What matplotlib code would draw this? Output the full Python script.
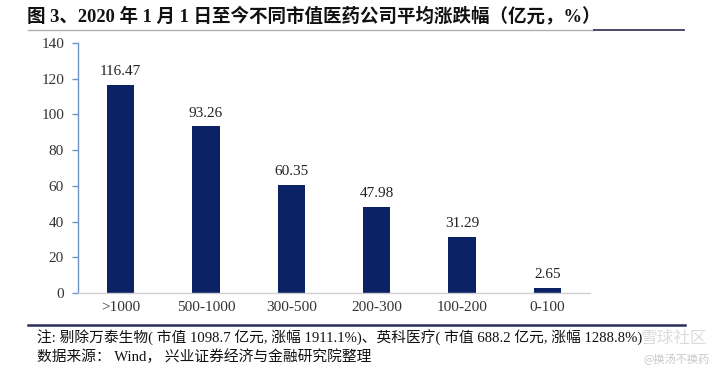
import matplotlib
matplotlib.use("Agg")
import matplotlib.pyplot as plt
from matplotlib.lines import Line2D

categories = [">1000", "500-1000", "300-500", "200-300", "100-200", "0-100"]
values = [116.47, 93.26, 60.35, 47.98, 31.29, 2.65]
y_ticks = [0, 20, 40, 60, 80, 100, 120, 140]

title = "图 3、2020 年 1 月 1 日至今不同市值医药公司平均涨跌幅（亿元，%）"
note = "注: 剔除万泰生物( 市值 1098.7 亿元, 涨幅 1911.1%)、英科医疗( 市值 688.2 亿元, 涨幅 1288.8%)"
source = "数据来源： Wind， 兴业证券经济与金融研究院整理"

serif = ["Liberation Serif", "Noto Sans CJK SC"]

W, H = 715, 379
fig = plt.figure(figsize=(W / 100, H / 100), dpi=100)
ax = fig.add_axes([78 / W, 1 - 293 / H, (590 - 78) / W, (293 - 43) / H])

bar_color = "#0b2265"
x = range(len(categories))
ax.bar(x, values, width=0.32, color=bar_color)
for xi, v in zip(x, values):
    ax.annotate(f"{v:.2f}", (xi, v), xytext=(0, 5), textcoords="offset points",
                ha="center", va="bottom", fontsize=11, family=serif, color="#222222")

ax.set_xlim(-0.5, len(categories) - 0.5)
ax.set_ylim(0, 140)
ax.set_yticks(y_ticks)
ax.set_yticklabels([str(t) for t in y_ticks], family=serif, fontsize=11, color="#333333")
ax.set_xticks(list(x))
ax.set_xticklabels(categories, family=serif, fontsize=11, color="#333333")
ax.tick_params(axis="x", length=0, pad=6)
ax.tick_params(axis="y", length=4, width=1, color="#6f93c9", direction="out", pad=6)
for s in ["top", "right"]:
    ax.spines[s].set_visible(False)
ax.spines["left"].set_color("#6f93c9")
ax.spines["left"].set_linewidth(1)
ax.spines["bottom"].set_color("#d0d0d0")
ax.spines["bottom"].set_linewidth(1)

# Title
fig.text(27 / W, 1 - 16 / H, title, fontsize=13.3, fontweight="bold",
         family=["Liberation Serif", "Noto Sans CJK SC"], color="#111111",
         ha="left", va="center")
fig.add_artist(Line2D([28 / W, 594 / W], [1 - 30 / H] * 2, color="#b0b0b0", lw=1))
fig.add_artist(Line2D([594 / W, 684 / W], [1 - 30 / H] * 2, color="#3a3a5c", lw=1.3))

# Bottom rule
fig.add_artist(Line2D([28 / W, 685 / W], [1 - 325 / H] * 2, color="#2c2c5e", lw=1.8))

fig.text(37 / W, 1 - 338 / H, note, fontsize=10.6, family=serif, color="#111111",
         ha="left", va="center")
fig.text(37 / W, 1 - 357 / H, source, fontsize=10.6, family=serif, color="#111111",
         ha="left", va="center")

# Watermarks
fig.text(707 / W, 1 - 338 / H, "雪球社区", fontsize=12, family=["Noto Sans CJK SC"],
         color="#d8d8d8", ha="right", va="center", alpha=0.9)
fig.text(709 / W, 1 - 359 / H, "@换汤不换药", fontsize=8, family=["Noto Sans CJK SC"],
         color="#c8c8c8", ha="right", va="center")

fig.savefig("out.png", dpi=100)
